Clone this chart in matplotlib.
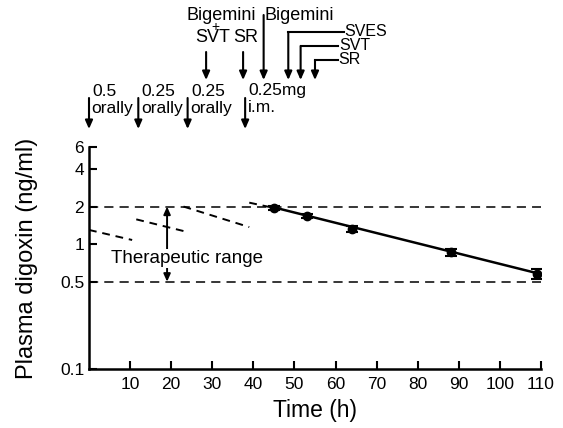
import numpy as np
import matplotlib.pyplot as plt

plt.rcParams['font.family'] = ['Liberation Sans', 'DejaVu Sans']

# measured plasma digoxin (ng/ml) vs time (h)
time_h = [45, 53, 64, 88, 109]
conc = [1.95, 1.68, 1.33, 0.86, 0.58]
conc_err = [0.07, 0.07, 0.07, 0.06, 0.05]

# fitted elimination line (end points)
fit_x = [45, 110]
fit_y = [1.97, 0.575]

# dashed predicted decay segments after each dose: (x0, y0, x1, y1)
seg_x0 = [0, 11.5, 23, 39]
seg_y0 = [1.3, 1.58, 2.0, 2.15]
seg_x1 = [10.5, 24, 39, 45]
seg_y1 = [1.08, 1.25, 1.37, 1.95]

# therapeutic range
ther_lo, ther_hi = 0.5, 2.0

# doses
dose_t = [0, 12, 24, 38]
dose_amt = ['0.5', '0.25', '0.25', '0.25mg']
dose_route = ['orally', 'orally', 'orally', 'i.m.']

# arrhythmia events
event_t = [28.5, 37.5, 42.5, 48.5, 51.5, 55]
event_lbl = ['Bigemini\n+\nSVT', 'SR', 'Bigemini', 'SVES', 'SVT', 'SR']

xticks = [10, 20, 30, 40, 50, 60, 70, 80, 90, 100, 110]
yticks = [0.1, 0.5, 1, 2, 4, 6]
ytick_lbl = ['0.1', '0.5', '1', '2', '4', '6']

fig = plt.figure(figsize=(5.63, 4.28), dpi=100)
ax = fig.add_axes([89 / 563, 59 / 428, 452 / 563, 222 / 428])

ax.set_yscale('log')
ax.set_xlim(0, 110)
ax.set_ylim(0.1, 6)

# therapeutic range lines
dash = (0, (6, 4))
ax.plot([0, 110], [ther_hi, ther_hi], color='k', lw=1.1, linestyle=dash)
ax.plot([0, 110], [ther_lo, ther_lo], color='k', lw=1.1, linestyle=dash)

for x0, y0, x1, y1 in zip(seg_x0, seg_y0, seg_x1, seg_y1):
    ax.plot([x0, x1], [y0, y1], color='k', lw=1.4, linestyle=(0, (4, 3)))

ax.plot(fit_x, fit_y, color='k', lw=1.8)
ax.errorbar(time_h, conc, yerr=conc_err, fmt='o', color='k', ms=6,
            capsize=4, elinewidth=1.5, capthick=1.5)

# therapeutic range arrow and label
ax.annotate('', xy=(19, ther_hi), xytext=(19, ther_lo),
            arrowprops=dict(arrowstyle='<|-|>,head_width=0.2,head_length=0.45',
                            color='k', lw=1.4, shrinkA=0, shrinkB=0))
ax.text(23.9, 0.77, 'Therapeutic range', ha='center', va='center',
        fontsize=13.5, bbox=dict(facecolor='white', edgecolor='none', pad=1))

# axes styling
for s in ['top', 'right']:
    ax.spines[s].set_visible(False)
for s in ['left', 'bottom']:
    ax.spines[s].set_linewidth(1.8)
ax.set_xticks(xticks)
ax.set_xticklabels([str(t) for t in xticks])
ax.set_yticks(yticks)
ax.set_yticklabels(ytick_lbl)
ax.minorticks_off()
ax.tick_params(direction='in', length=6, width=1.5, labelsize=12.5)
ax.tick_params(axis='x', pad=6)
ax.set_xlabel('Time (h)', fontsize=16.5, labelpad=5)
ax.set_ylabel('Plasma digoxin (ng/ml)', fontsize=17, labelpad=16)

# annotations above the plot (y in figure pixels from the top)
tr = ax.get_xaxis_transform()


def ay(py):
    return (369 - py) / 222


aprops = dict(arrowstyle='-|>,head_width=0.22,head_length=0.5', color='k',
              lw=1.5, shrinkA=0, shrinkB=0)

for t, amt, rt in zip(dose_t, dose_amt, dose_route):
    ax.annotate('', xy=(t, ay(129)), xytext=(t, ay(98)), xycoords=tr,
                textcoords=tr, arrowprops=aprops, annotation_clip=False)
    ax.text(t + 0.8, ay(91), amt, transform=tr, fontsize=12.5,
            ha='left', va='center')
    ax.text(t + 0.6, ay(108), rt, transform=tr, fontsize=12.5,
            ha='left', va='center')

# event arrows
# Bigemini + SVT
ax.annotate('', xy=(event_t[0], ay(80)), xytext=(event_t[0], ay(52)),
            xycoords=tr, textcoords=tr, arrowprops=aprops, annotation_clip=False)
ax.text(event_t[0] + 3.8, ay(16), 'Bigemini', transform=tr, fontsize=13,
        ha='center', va='center')
ax.text(event_t[0] + 2.3, ay(27), '+', transform=tr, fontsize=10,
        ha='center', va='center')
ax.text(event_t[0] + 1.7, ay(38), 'SVT', transform=tr, fontsize=13,
        ha='center', va='center')
# SR
ax.annotate('', xy=(event_t[1], ay(80)), xytext=(event_t[1], ay(52)),
            xycoords=tr, textcoords=tr, arrowprops=aprops, annotation_clip=False)
ax.text(event_t[1] - 2.3, ay(38), event_lbl[1], transform=tr, fontsize=13,
        ha='left', va='center')
# second Bigemini
ax.annotate('', xy=(event_t[2], ay(80)), xytext=(event_t[2], ay(15)),
            xycoords=tr, textcoords=tr, arrowprops=aprops, annotation_clip=False)
ax.text(event_t[2] + 0.3, ay(16), event_lbl[2], transform=tr, fontsize=13,
        ha='left', va='center')

# elbow arrows: SVES, SVT, SR
elbow_py = [32, 46, 60]
elbow_end = [62.0, 60.7, 60.5]
for t, lbl, py, xe in zip(event_t[3:], event_lbl[3:], elbow_py, elbow_end):
    ax.plot([t, xe], [ay(py), ay(py)], transform=tr, color='k', lw=1.5,
            clip_on=False)
    ax.annotate('', xy=(t, ay(80)), xytext=(t, ay(py)), xycoords=tr,
                textcoords=tr, arrowprops=aprops, annotation_clip=False)
    ax.text(xe + 0.2, ay(py), lbl, transform=tr, fontsize=11.5, ha='left',
            va='center')

plt.savefig('out.png', dpi=100)
